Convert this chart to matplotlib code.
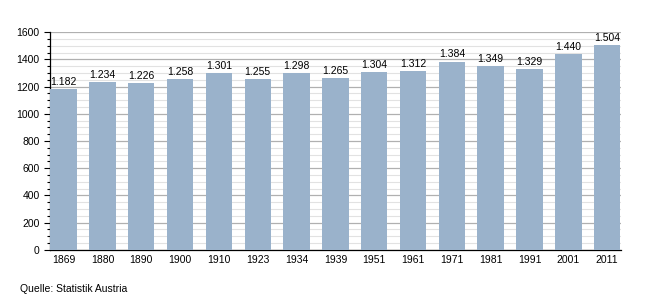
import matplotlib.pyplot as plt
from matplotlib.ticker import MultipleLocator

plt.rcParams['font.family'] = ['Liberation Sans', 'DejaVu Sans']

years = ['1869', '1880', '1890', '1900', '1910', '1923', '1934', '1939',
         '1951', '1961', '1971', '1981', '1991', '2001', '2011']
population = [1182, 1234, 1226, 1258, 1301, 1255, 1298, 1265,
              1304, 1312, 1384, 1349, 1329, 1440, 1504]

fig = plt.figure(figsize=(6.5, 3), dpi=100)
ax = fig.add_axes([0.077, 0.167, 0.878, 0.726])

x = range(len(years))
ax.bar(x, population, width=0.68, color='#9ab2cb', zorder=3)

for xi, v in zip(x, population):
    label = f'{v:,}'.replace(',', '.')
    ax.text(xi, v + 15, label, ha='center', va='bottom', fontsize=7.5, zorder=4)

ax.set_xlim(-0.35, len(years) - 0.65)
ax.set_ylim(0, 1600)
ax.set_xticks(list(x))
ax.set_xticklabels(years, fontsize=7.5)
ax.yaxis.set_major_locator(MultipleLocator(200))
ax.yaxis.set_minor_locator(MultipleLocator(50))
ax.tick_params(axis='y', labelsize=7.5, length=4, width=0.8)
ax.tick_params(axis='y', which='minor', length=2.5, width=0.8)
ax.tick_params(axis='x', length=0, pad=4)

ax.grid(axis='y', which='major', color='#b0b0b0', linewidth=0.9, zorder=0)
ax.grid(axis='y', which='minor', color='#e2e2e2', linewidth=0.8, zorder=0)

for s in ['top', 'right']:
    ax.spines[s].set_visible(False)
ax.spines['left'].set_linewidth(0.9)
ax.spines['bottom'].set_linewidth(0.9)

fig.text(0.031, 0.02, 'Quelle: Statistik Austria', fontsize=7.5, ha='left', va='bottom')

fig.savefig('out.png', dpi=100)
